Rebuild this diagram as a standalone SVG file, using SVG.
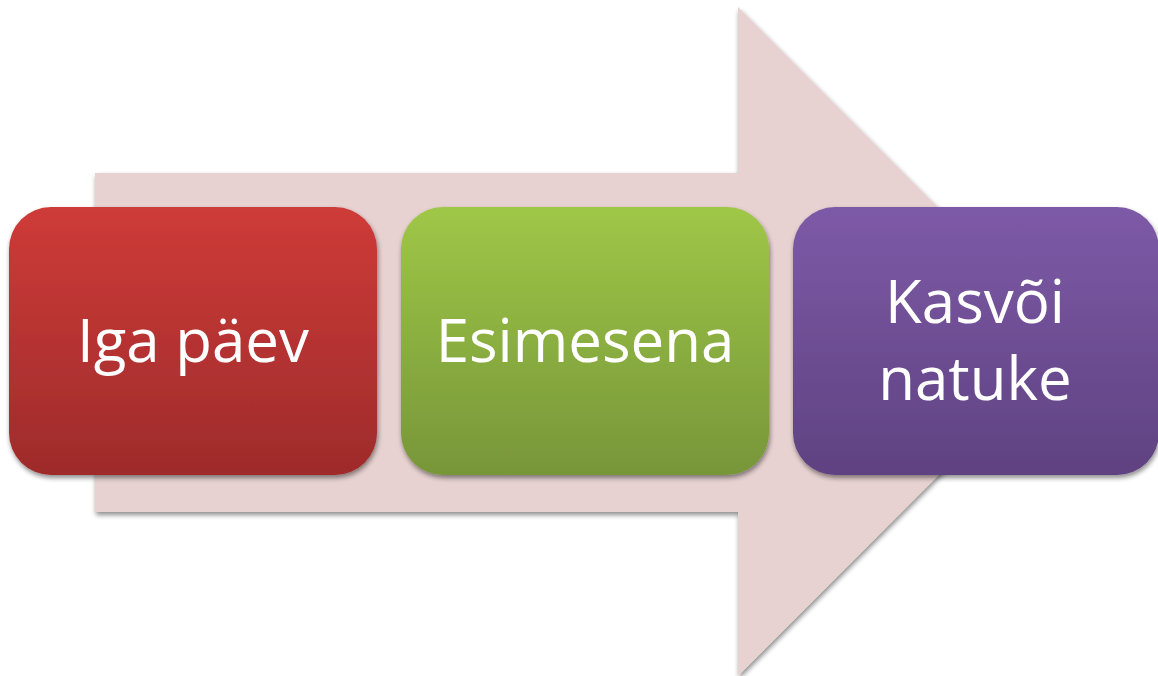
<svg xmlns="http://www.w3.org/2000/svg" width="1158" height="676" viewBox="0 0 1158 676">
  <defs>
    <filter id="shadow" x="-10%" y="-10%" width="120%" height="125%">
      <feGaussianBlur in="SourceAlpha" stdDeviation="2.5"/>
      <feOffset dx="1" dy="3" result="b"/>
      <feComponentTransfer><feFuncA type="linear" slope="0.45"/></feComponentTransfer>
      <feMerge><feMergeNode/><feMergeNode in="SourceGraphic"/></feMerge>
    </filter>
    <linearGradient id="gRed" x1="0" y1="0" x2="0" y2="1">
      <stop offset="0" stop-color="#CE3B38"/>
      <stop offset="1" stop-color="#9E2B2B"/>
    </linearGradient>
    <linearGradient id="gGreen" x1="0" y1="0" x2="0" y2="1">
      <stop offset="0" stop-color="#9FC747"/>
      <stop offset="1" stop-color="#779639"/>
    </linearGradient>
    <linearGradient id="gPurple" x1="0" y1="0" x2="0" y2="1">
      <stop offset="0" stop-color="#7D5AA7"/>
      <stop offset="1" stop-color="#5F4281"/>
    </linearGradient>
  </defs>
  <style>
    .label { font-family: "Open Sans", "Liberation Sans", sans-serif; font-size: 60px; fill: #FFFFFF; text-anchor: middle; }
    .box { filter: url(#shadow); }
  </style>

  <!-- background arrow -->
  <g id="arrow">
    <path d="M95,173 H738 V7 L1072,341.5 L738,676 V512 H95 Z" fill="#E7D1D1" filter="url(#shadow)"/>
  </g>

  <g id="node-iga-paev">
    <rect class="box" x="9" y="207" width="368" height="268" rx="42" fill="url(#gRed)"/>
    <text class="label" x="193" y="362">Iga päev</text>
  </g>

  <g id="node-esimesena">
    <rect class="box" x="401" y="207" width="368" height="268" rx="42" fill="url(#gGreen)"/>
    <text class="label" x="585" y="362">Esimesena</text>
  </g>

  <g id="node-kasvoi-natuke">
    <rect class="box" x="793" y="207" width="366" height="268" rx="42" fill="url(#gPurple)"/>
    <text class="label" x="975" y="323">Kasvõi</text>
    <text class="label" x="975" y="400">natuke</text>
  </g>

  <g id="connectors"/>
</svg>
